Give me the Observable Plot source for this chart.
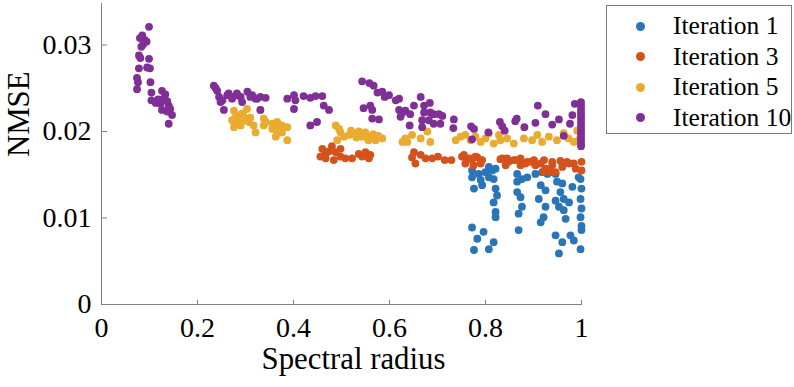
<!DOCTYPE html>
<html>
<head>
<meta charset="utf-8">
<script src="https://cdn.jsdelivr.net/npm/d3@7"></script>
<script src="https://cdn.jsdelivr.net/npm/@observablehq/plot@0.6"></script>
<style>
  html, body { margin: 0; padding: 0; background: #fff; }
  #wrap { position: relative; width: 794px; height: 387px; font-family: "Liberation Serif", "Times New Roman", serif; }
  #legend { position: absolute; left: 606px; top: 5px; width: 186px; height: 129px; box-sizing: border-box;
            border: 1px solid #7a7a7a; background: #fff; }
  .row { position: absolute; left: 0; height: 30px; display: flex; align-items: center; font-size: 25.5px; color: #000; white-space: nowrap; }
  .sw { position: absolute; width: 9px; height: 9px; border-radius: 50%; left: 29px; }
  .lab { position: absolute; left: 66px; line-height: 30px; }
</style>
</head>
<body>
<div id="wrap"><div id="chart"></div><div id="legend"></div></div>
<script>
// ---- data ----
const seriesNames = ["Iteration 1", "Iteration 3", "Iteration 5", "Iteration 10"];
const seriesColors = ["#2A74B8", "#D4521C", "#E9AB30", "#7F2F96"];

const xTicks = [0, 0.2, 0.4, 0.6, 0.8, 1];
const xTickLabels = ["0", "0.2", "0.4", "0.6", "0.8", "1"];
const yTicks = [0, 0.01, 0.02, 0.03];
const yTickLabels = ["0", "0.01", "0.02", "0.03"];

// [spectral radius, NMSE]
const iter1 = [
  [0.772,0.0155],[0.786,0.0151],[0.800,0.0153],[0.807,0.0159],[0.814,0.0155],[0.821,0.0157],[0.772,0.0147],[0.790,0.0144],
  [0.807,0.0147],[0.817,0.0145],[0.776,0.0134],[0.793,0.0138],[0.821,0.0134],[0.824,0.0126],[0.817,0.0118],[0.821,0.0107],
  [0.821,0.0101],[0.772,0.0089],[0.796,0.0084],[0.783,0.0076],[0.817,0.0072],[0.776,0.0063],[0.807,0.0064],
  [0.866,0.0151],[0.866,0.0142],[0.876,0.0145],[0.887,0.0147],[0.866,0.0130],[0.873,0.0124],[0.876,0.0113],[0.869,0.0105],[0.869,0.0086],
  [0.904,0.0151],[0.918,0.0153],[0.929,0.0151],[0.915,0.0138],[0.925,0.0132],[0.911,0.0122],[0.925,0.0113],[0.921,0.0101],[0.915,0.0095],
  [0.946,0.0151],[0.949,0.0142],[0.960,0.0140],[0.956,0.0130],[0.963,0.0122],[0.946,0.0120],[0.953,0.0113],[0.963,0.0109],[0.967,0.0099],
  [0.974,0.0118],[0.946,0.0080],[0.960,0.0072],[0.977,0.0080],[0.984,0.0074],[0.981,0.0136],[0.998,0.0145],[1.000,0.0134],[0.998,0.0122],
  [1.000,0.0111],[0.998,0.0101],[1.000,0.0091],[1.000,0.0086],[0.998,0.0064],[0.953,0.0059],[0.994,0.0147]
];
const iter3 = [
  [0.460,0.0180],[0.467,0.0174],[0.456,0.0171],[0.473,0.0177],[0.480,0.0183],[0.488,0.0176],[0.498,0.0180],[0.498,0.0171],
  [0.484,0.0167],[0.508,0.0169],[0.522,0.0169],[0.536,0.0174],[0.543,0.0171],[0.550,0.0176],[0.557,0.0169],[0.560,0.0173],[0.467,0.0169],
  [0.651,0.0176],[0.647,0.0170],[0.665,0.0173],[0.675,0.0169],[0.689,0.0169],[0.701,0.0171],[0.715,0.0167],[0.729,0.0167],[0.654,0.0163],
  [0.755,0.0173],[0.762,0.0167],[0.773,0.0169],[0.783,0.0170],[0.793,0.0167],[0.831,0.0168],[0.845,0.0169],[0.859,0.0167],[0.873,0.0169],
  [0.887,0.0165],[0.901,0.0167],[0.922,0.0167],[0.939,0.0165],[0.956,0.0166],[0.970,0.0165],[0.984,0.0163],[1.000,0.0165],
  [0.751,0.0171],[0.765,0.0169],[0.779,0.0171],[0.758,0.0163],[0.775,0.0161],[0.790,0.0163],[0.835,0.0169],[0.842,0.0161],
  [0.848,0.0165],[0.862,0.0167],[0.873,0.0161],[0.883,0.0163],[0.894,0.0165],[0.904,0.0161],[0.915,0.0163],[0.925,0.0157],
  [0.939,0.0161],[0.946,0.0153],[0.960,0.0159],[0.974,0.0163],[0.988,0.0157],[1.000,0.0155],[0.921,0.0153],[0.935,0.0153]
];
const iter5 = [
  [0.276,0.0224],[0.283,0.0219],[0.272,0.0213],[0.293,0.0221],[0.303,0.0226],[0.310,0.0216],[0.307,0.0211],[0.276,0.0205],
  [0.290,0.0207],[0.300,0.0213],[0.317,0.0207],[0.321,0.0199],[0.338,0.0215],[0.338,0.0207],[0.356,0.0209],[0.366,0.0211],
  [0.376,0.0207],[0.356,0.0203],[0.366,0.0198],[0.376,0.0199],[0.387,0.0205],[0.387,0.0190],[0.363,0.0194],[0.280,0.0217],
  [0.296,0.0218],[0.285,0.0211],[0.370,0.0203],[0.360,0.0207],[0.331,0.0225],[0.342,0.0211],
  [0.488,0.0207],[0.498,0.0199],[0.491,0.0190],[0.505,0.0194],[0.516,0.0196],[0.526,0.0198],[0.536,0.0200],[0.543,0.0194],
  [0.550,0.0199],[0.556,0.0190],[0.560,0.0194],[0.571,0.0190],[0.585,0.0192],[0.495,0.0203],[0.520,0.0201],[0.566,0.0197],
  [0.531,0.0193],[0.577,0.0195],
  [0.633,0.0192],[0.647,0.0196],[0.627,0.0188],[0.637,0.0188],[0.665,0.0192],[0.679,0.0200],[0.685,0.0188],[0.738,0.0190],
  [0.748,0.0194],[0.758,0.0196],[0.769,0.0190],[0.779,0.0194],[0.790,0.0188],[0.800,0.0192],[0.807,0.0198],[0.817,0.0186],
  [0.828,0.0196],[0.831,0.0190],[0.845,0.0192],[0.859,0.0186],[0.880,0.0192],[0.897,0.0190],[0.908,0.0196],[0.918,0.0188],
  [0.932,0.0194],[0.949,0.0190],[0.963,0.0198],[0.973,0.0192],[0.984,0.0188],[0.991,0.0201],[0.994,0.0190]
];
const iter10 = [
  [0.099,0.0321],[0.080,0.0308],[0.085,0.0311],[0.090,0.0306],[0.087,0.0301],[0.094,0.0304],[0.083,0.0298],[0.078,0.0288],
  [0.081,0.0285],[0.099,0.0284],[0.078,0.0273],[0.095,0.0274],[0.101,0.0273],[0.074,0.0262],[0.076,0.0257],[0.074,0.0249],
  [0.102,0.0257],[0.104,0.0245],[0.126,0.0247],[0.133,0.0243],[0.104,0.0236],[0.113,0.0233],[0.123,0.0232],[0.137,0.0235],
  [0.140,0.0230],[0.126,0.0225],[0.137,0.0223],[0.147,0.0219],[0.140,0.0209],[0.130,0.0238],[0.143,0.0226],[0.118,0.0237],
  [0.234,0.0253],[0.241,0.0247],[0.245,0.0240],[0.248,0.0234],[0.255,0.0225],[0.262,0.0242],[0.272,0.0238],[0.282,0.0244],
  [0.290,0.0240],[0.304,0.0246],[0.314,0.0242],[0.324,0.0238],[0.265,0.0244],[0.273,0.0240],[0.283,0.0242],[0.293,0.0234],
  [0.310,0.0240],[0.321,0.0238],[0.331,0.0240],[0.342,0.0239],[0.331,0.0225],[0.387,0.0238],[0.401,0.0242],[0.404,0.0236],
  [0.421,0.0241],[0.435,0.0239],[0.446,0.0241],[0.460,0.0241],[0.463,0.0230],[0.474,0.0225],[0.435,0.0207],[0.449,0.0211],
  [0.401,0.0226],[0.238,0.0250],[0.252,0.0236],
  [0.543,0.0258],[0.558,0.0256],[0.567,0.0253],[0.585,0.0246],[0.599,0.0242],[0.613,0.0236],[0.620,0.0238],[0.546,0.0227],
  [0.560,0.0230],[0.620,0.0225],[0.623,0.0217],[0.564,0.0215],[0.578,0.0214],[0.626,0.0221],[0.575,0.0245],[0.590,0.0240],[0.564,0.0225],
  [0.665,0.0240],[0.651,0.0230],[0.672,0.0230],[0.684,0.0233],[0.633,0.0224],[0.643,0.0220],[0.672,0.0222],[0.685,0.0222],
  [0.692,0.0220],[0.703,0.0220],[0.710,0.0218],[0.668,0.0213],[0.682,0.0213],[0.692,0.0209],[0.706,0.0209],[0.642,0.0207],
  [0.668,0.0205],[0.734,0.0214],[0.733,0.0204],[0.770,0.0206],[0.776,0.0203],[0.772,0.0191],[0.806,0.0199],[0.830,0.0211],
  [0.835,0.0206],[0.840,0.0201],[0.862,0.0212],[0.865,0.0215],[0.881,0.0205],[0.904,0.0210],[0.909,0.0230],[0.925,0.0220],
  [0.939,0.0208],[0.953,0.0214],[0.963,0.0195],[0.976,0.0209],[0.981,0.0219],[0.986,0.0232],
  [0.999,0.0234],[0.999,0.0230],[0.999,0.0226],[0.999,0.0222],[0.999,0.0218],[0.999,0.0214],[0.999,0.0210],[0.999,0.0206],
  [0.999,0.0202],[0.999,0.0198],[0.999,0.0194],[0.999,0.0190],[0.999,0.0186],[0.999,0.0183]
];
const seriesData = [iter1, iter3, iter5, iter10];

// ---- build table ----
const points = [];
seriesData.forEach((arr, k) => arr.forEach(([x, y]) => points.push({series: seriesNames[k], x, y})));

const axisGray = "#808080";
const font = "'Liberation Serif', 'Times New Roman', serif";

const chart = Plot.plot({
  width: 794, height: 387,
  marginLeft: 101, marginRight: 213, marginTop: 3, marginBottom: 83,
  style: {fontFamily: font, background: "white", color: "black", overflow: "visible"},
  x: {domain: [0, 1]},
  y: {domain: [0, 0.0348]},
  color: {domain: seriesNames, range: seriesColors},
  marks: [
    Plot.ruleY([0], {stroke: axisGray, strokeWidth: 1}),
    Plot.ruleX([0], {stroke: axisGray, strokeWidth: 1}),
    Plot.axisX(xTicks, {anchor: "bottom", tickSize: 0, tickPadding: 13, fontSize: 28, fill: "black",
      tickFormat: d => xTickLabels[xTicks.indexOf(d)], label: null}),
    Plot.axisX(xTicks, {anchor: "top", tickSize: 5, text: null, dy: 301, stroke: axisGray, label: null}),
    Plot.axisY(yTicks, {anchor: "left", tickSize: 0, tickPadding: 10, fontSize: 28, fill: "black",
      tickFormat: d => yTickLabels[yTicks.indexOf(d)], label: null}),
    Plot.axisY(yTicks, {anchor: "right", tickSize: 5, text: null, dx: -480, stroke: axisGray, label: null}),
    Plot.dot(points, {x: "x", y: "y", fill: "series", r: 3.9, stroke: null}),
    Plot.text(["Spectral radius"], {text: d => d, frameAnchor: "bottom", dy: 64, dx: 12, fontSize: 30.8, fill: "black"}),
    Plot.text(["NMSE"], {text: d => d, frameAnchor: "left", rotate: -90, dx: -82, dy: 3, fontSize: 30.8, fill: "black"})
  ]
});
document.getElementById("chart").appendChild(chart);

// ---- legend ----
const legend = document.getElementById("legend");
const rowTops = [5, 35.5, 66, 96.5];
seriesNames.forEach((name, i) => {
  const row = document.createElement("div");
  row.className = "row";
  row.style.top = rowTops[i] + "px";
  row.style.width = "184px";
  const sw = document.createElement("span");
  sw.className = "sw";
  sw.style.background = seriesColors[i];
  sw.style.top = "10.5px";
  const lab = document.createElement("span");
  lab.className = "lab";
  lab.textContent = name;
  row.appendChild(sw); row.appendChild(lab);
  legend.appendChild(row);
});
</script>
</body>
</html>
